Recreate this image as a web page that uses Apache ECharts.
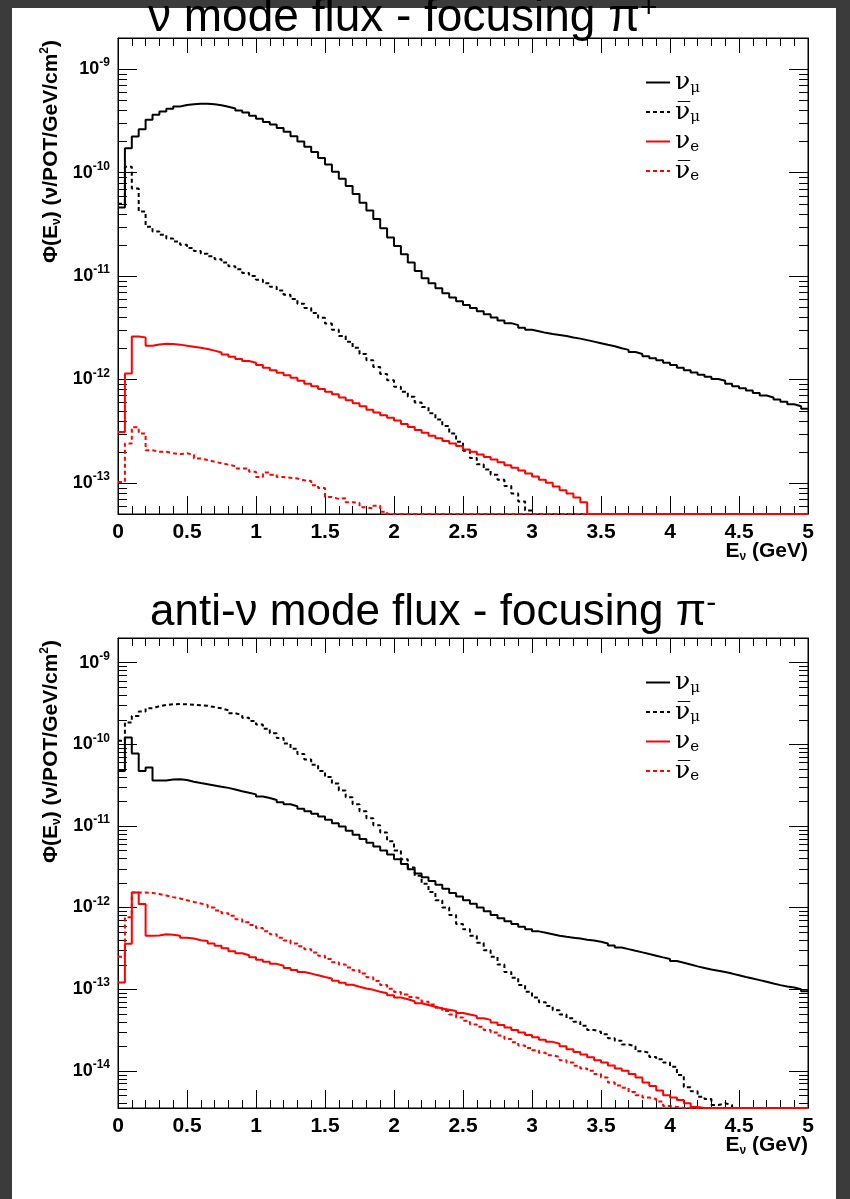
<!DOCTYPE html>
<html><head><meta charset="utf-8">
<script src="https://cdn.jsdelivr.net/npm/echarts@6/dist/echarts.min.js"></script>
<style>
html,body{margin:0;padding:0;background:#3b3b3b;}
#panel{position:absolute;left:12px;top:8px;width:824px;height:1191px;background:#fff;}
#chart{position:absolute;left:0;top:0;width:850px;height:1199px;}
</style></head>
<body><div id="panel"></div><div id="chart"></div>
<script>
// ---- DATA (flux per 0.05 GeV bin, bins start at 0 GeV; 0 = empty bin) ----
const BIN_WIDTH = 0.05;
const N_BINS = 100;
const X_TICK_LABELS = ['0','0.5','1','1.5','2','2.5','3','3.5','4','4.5','5'];

// nu mode (focusing pi+)
const nuModeNumu = [
4.6e-11,1.72e-10,2.23e-10,2.63e-10,3.24e-10,3.63e-10,3.89e-10,4.13e-10,4.36e-10,4.49e-10,
4.58e-10,4.62e-10,4.62e-10,4.57e-10,4.47e-10,4.32e-10,4.17e-10,3.98e-10,3.80e-10,3.55e-10,
3.31e-10,3.09e-10,2.92e-10,2.69e-10,2.48e-10,2.24e-10,2.0e-10,1.78e-10,1.58e-10,1.38e-10,
1.2e-10,1.02e-10,8.7e-11,7.4e-11,6.2e-11,5.1e-11,4.3e-11,3.55e-11,2.9e-11,2.35e-11,
1.95e-11,1.62e-11,1.35e-11,1.12e-11,9.5e-12,8.5e-12,7.6e-12,6.8e-12,6.2e-12,5.7e-12,
5.25e-12,4.9e-12,4.57e-12,4.27e-12,3.98e-12,3.72e-12,3.5e-12,3.35e-12,3.16e-12,3.02e-12,
2.92e-12,2.82e-12,2.75e-12,2.69e-12,2.63e-12,2.54e-12,2.48e-12,2.4e-12,2.32e-12,2.24e-12,
2.16e-12,2.09e-12,2.0e-12,1.93e-12,1.84e-12,1.76e-12,1.68e-12,1.6e-12,1.53e-12,1.45e-12,
1.38e-12,1.3e-12,1.23e-12,1.17e-12,1.11e-12,1.06e-12,1.01e-12,9.7e-13,9.1e-13,8.6e-13,
8.2e-13,7.8e-13,7.4e-13,7.0e-13,6.7e-13,6.4e-13,6.1e-13,5.75e-13,5.5e-13,5.2e-13];
const nuModeNumubar = [
5.0e-11,1.14e-10,7.0e-11,4.2e-11,3.0e-11,2.7e-11,2.5e-11,2.3e-11,2.15e-11,2.0e-11,
1.86e-11,1.74e-11,1.64e-11,1.55e-11,1.45e-11,1.35e-11,1.24e-11,1.16e-11,1.07e-11,1.0e-11,
9.2e-12,8.5e-12,7.85e-12,7.25e-12,6.6e-12,6.0e-12,5.4e-12,4.9e-12,4.4e-12,3.94e-12,
3.47e-12,3.02e-12,2.63e-12,2.32e-12,2.02e-12,1.76e-12,1.53e-12,1.32e-12,1.13e-12,9.8e-13,
8.5e-13,7.6e-13,6.8e-13,6.0e-13,5.4e-13,4.7e-13,4.1e-13,3.55e-13,3.0e-13,2.5e-13,
2.04e-13,1.74e-13,1.51e-13,1.35e-13,1.2e-13,1.07e-13,9.3e-14,7.9e-14,6.6e-14,5.4e-14,
0,0,0,0,0,0,0,0,0,0,
0,0,0,0,0,0,0,0,0,0,
0,0,0,0,0,0,0,0,0,0,
0,0,0,0,0,0,0,0,0,0];
const nuModeNue = [
3.1e-13,1.14e-12,2.6e-12,2.55e-12,2.12e-12,2.18e-12,2.21e-12,2.2e-12,2.17e-12,2.12e-12,
2.07e-12,2.02e-12,1.97e-12,1.9e-12,1.82e-12,1.74e-12,1.66e-12,1.58e-12,1.51e-12,1.45e-12,
1.38e-12,1.3e-12,1.23e-12,1.16e-12,1.1e-12,1.04e-12,9.7e-13,9.1e-13,8.6e-13,8.1e-13,
7.6e-13,7.2e-13,6.7e-13,6.3e-13,5.9e-13,5.5e-13,5.1e-13,4.8e-13,4.5e-13,4.27e-13,
4.0e-13,3.7e-13,3.47e-13,3.24e-13,3.05e-13,2.85e-13,2.7e-13,2.54e-13,2.4e-13,2.27e-13,
2.1e-13,2.0e-13,1.88e-13,1.78e-13,1.68e-13,1.58e-13,1.48e-13,1.4e-13,1.32e-13,1.23e-13,
1.15e-13,1.07e-13,1.0e-13,9.2e-14,8.5e-14,7.9e-14,7.2e-14,6.5e-14,0,0,
0,0,0,0,0,0,0,0,0,0,
0,0,0,0,0,0,0,0,0,0,
0,0,0,0,0,0,0,0,0,0];
const nuModeNuebar = [
1.02e-13,2.4e-13,3.45e-13,3.0e-13,2.07e-13,2.0e-13,2.0e-13,1.93e-13,1.9e-13,1.93e-13,
1.87e-13,1.72e-13,1.66e-13,1.6e-13,1.55e-13,1.5e-13,1.45e-13,1.38e-13,1.38e-13,1.28e-13,
1.14e-13,1.26e-13,1.2e-13,1.14e-13,1.12e-13,1.1e-13,1.06e-13,1.04e-13,9.5e-14,8.9e-14,
7.3e-14,7.0e-14,7.1e-14,6.5e-14,6.4e-14,5.8e-14,5.65e-14,6.0e-14,5.25e-14,0,
0,0,0,0,0,0,0,0,0,0,
0,0,0,0,0,0,0,0,0,0,
0,0,0,0,0,0,0,0,0,0,
0,0,0,0,0,0,0,0,0,0,
0,0,0,0,0,0,0,0,0,0,
0,0,0,0,0,0,0,0,0,0];

// anti-nu mode (focusing pi-)
const antiModeNumu = [
4.7e-11,1.21e-10,7.7e-11,4.7e-11,5.2e-11,3.6e-11,3.6e-11,3.7e-11,3.72e-11,3.65e-11,
3.47e-11,3.35e-11,3.24e-11,3.13e-11,3.02e-11,2.92e-11,2.79e-11,2.66e-11,2.54e-11,2.43e-11,
2.29e-11,2.19e-11,2.07e-11,1.95e-11,1.84e-11,1.74e-11,1.62e-11,1.51e-11,1.41e-11,1.3e-11,
1.19e-11,1.08e-11,9.8e-12,8.7e-12,7.8e-12,6.9e-12,6.2e-12,5.6e-12,5.0e-12,4.47e-12,
3.9e-12,3.4e-12,2.95e-12,2.6e-12,2.34e-12,2.11e-12,1.9e-12,1.7e-12,1.51e-12,1.36e-12,
1.23e-12,1.11e-12,1.0e-12,9.0e-13,8.1e-13,7.4e-13,6.8e-13,6.3e-13,5.8e-13,5.4e-13,
5.1e-13,4.9e-13,4.7e-13,4.5e-13,4.37e-13,4.27e-13,4.17e-13,4.03e-13,3.94e-13,3.8e-13,
3.63e-13,3.43e-13,3.24e-13,3.09e-13,2.95e-13,2.82e-13,2.69e-13,2.57e-13,2.45e-13,2.34e-13,
2.21e-13,2.11e-13,2.0e-13,1.9e-13,1.82e-13,1.74e-13,1.68e-13,1.62e-13,1.55e-13,1.48e-13,
1.41e-13,1.35e-13,1.29e-13,1.23e-13,1.17e-13,1.12e-13,1.08e-13,1.05e-13,1.0e-13,9.4e-14];
const antiModeNumubar = [
1.1e-10,1.85e-10,2.22e-10,2.51e-10,2.76e-10,2.92e-10,3.03e-10,3.09e-10,3.1e-10,3.09e-10,
3.05e-10,3.0e-10,2.95e-10,2.85e-10,2.75e-10,2.6e-10,2.4e-10,2.27e-10,2.11e-10,1.93e-10,
1.74e-10,1.55e-10,1.36e-10,1.19e-10,1.02e-10,8.8e-11,7.6e-11,6.5e-11,5.6e-11,4.7e-11,
3.98e-11,3.3e-11,2.72e-11,2.24e-11,1.84e-11,1.51e-11,1.24e-11,1.02e-11,8.3e-12,6.5e-12,
5.0e-12,3.9e-12,3.1e-12,2.45e-12,1.95e-12,1.55e-12,1.23e-12,1.0e-12,8.1e-13,6.3e-13,
5.4e-13,4.5e-13,3.7e-13,3.0e-13,2.5e-13,2.0e-13,1.62e-13,1.38e-13,1.12e-13,9.3e-14,
7.9e-14,6.9e-14,6.2e-14,5.5e-14,4.9e-14,4.4e-14,4.0e-14,3.55e-14,3.16e-14,3.0e-14,
2.8e-14,2.5e-14,2.34e-14,2.1e-14,2.0e-14,1.74e-14,1.66e-14,1.48e-14,1.38e-14,1.26e-14,
1.12e-14,8.9e-15,6.3e-15,5.6e-15,4.8e-15,4.5e-15,3.8e-15,4.0e-15,3.8e-15,0,
0,0,0,0,0,0,0,0,0,0];
const antiModeNue = [
1.21e-13,3.6e-13,1.53e-12,1.1e-12,4.5e-13,4.55e-13,4.7e-13,4.65e-13,4.5e-13,4.25e-13,
4.17e-13,3.98e-13,3.9e-13,3.63e-13,3.39e-13,3.16e-13,2.92e-13,2.75e-13,2.6e-13,2.45e-13,
2.29e-13,2.16e-13,2.04e-13,1.93e-13,1.82e-13,1.72e-13,1.62e-13,1.55e-13,1.48e-13,1.41e-13,
1.35e-13,1.27e-13,1.2e-13,1.13e-13,1.07e-13,1.02e-13,9.8e-14,9.3e-14,8.9e-14,8.4e-14,
7.9e-14,7.5e-14,7.1e-14,6.7e-14,6.4e-14,6.1e-14,5.8e-14,5.6e-14,5.4e-14,5.1e-14,
4.9e-14,4.7e-14,4.4e-14,4.2e-14,3.9e-14,3.63e-14,3.4e-14,3.16e-14,2.95e-14,2.75e-14,
2.57e-14,2.4e-14,2.26e-14,2.14e-14,2.0e-14,1.84e-14,1.7e-14,1.58e-14,1.46e-14,1.35e-14,
1.26e-14,1.16e-14,1.07e-14,1.0e-14,9.1e-15,8.3e-15,7.2e-15,6.5e-15,5.75e-15,5.0e-15,
4.7e-15,4.4e-15,4.0e-15,3.6e-15,0,0,0,0,0,0,
0,0,0,0,0,0,0,0,0,0];
const antiModeNuebar = [
2.5e-13,7.6e-13,1.53e-12,1.53e-12,1.51e-12,1.46e-12,1.4e-12,1.34e-12,1.29e-12,1.23e-12,
1.17e-12,1.12e-12,1.07e-12,1.0e-12,9.2e-13,8.5e-13,7.9e-13,7.2e-13,6.6e-13,6.1e-13,
5.6e-13,5.1e-13,4.7e-13,4.27e-13,3.94e-13,3.63e-13,3.35e-13,3.09e-13,2.82e-13,2.57e-13,
2.34e-13,2.14e-13,2.0e-13,1.84e-13,1.7e-13,1.55e-13,1.4e-13,1.26e-13,1.12e-13,1.01e-13,
9.2e-14,8.6e-14,8.0e-14,7.6e-14,7.0e-14,6.5e-14,5.9e-14,5.4e-14,4.9e-14,4.5e-14,
4.1e-14,3.7e-14,3.47e-14,3.16e-14,2.95e-14,2.7e-14,2.45e-14,2.24e-14,2.04e-14,1.9e-14,
1.78e-14,1.66e-14,1.55e-14,1.48e-14,1.35e-14,1.26e-14,1.15e-14,1.07e-14,1.0e-14,9.1e-15,
8.3e-15,7.2e-15,6.6e-15,6.2e-15,5.5e-15,5.0e-15,4.7e-15,4.5e-15,4.2e-15,3.7e-15,
3.6e-15,0,0,0,0,0,0,0,0,0,
0,0,0,0,0,0,0,0,0,0];

const TOP_Y_RANGE = [5e-14, 2e-9];
const BOT_Y_RANGE = [3.5e-15, 2e-9];
const X_RANGE = [0, 5];

// ---- BUILD ----
const EDGES = [];
for (let i = 0; i < N_BINS; i++) EDGES.push(+(i * BIN_WIDTH).toFixed(2));
function toHist(vals, floor) {
  const f = v => (v > 0 ? v : floor);
  const pts = vals.map((v, i) => [EDGES[i], f(v)]);
  pts.push([X_RANGE[1], f(vals[vals.length - 1])]);
  return pts;
}
function minorLogTicks(r) {
  const out = [];
  for (let e = -16; e <= -8; e++) for (let m = 2; m <= 9; m++) {
    const v = m * Math.pow(10, e);
    if (v > r[0] && v < r[1]) out.push([0, v]);
  }
  return out;
}
const FONT = 'Liberation Sans, Arial, Helvetica, sans-serif';
const SERIF = 'DejaVu Serif, Liberation Serif, serif';

const LEGEND_TEXT = {
  numu: '{n|ν}{s|μ}', numubar: '{n|ν\u0305}{s|μ}', nue: '{n|ν}{s|e}', nuebar: '{n|ν\u0305}{s|e}'
};
const STYLES = {
  numu: {color: '#000', type: 'solid'}, numubar: {color: '#000', type: [4, 3]},
  nue: {color: '#ff0000', type: 'solid'}, nuebar: {color: '#ff0000', type: [4, 3]}
};
const PANELS = [
  {grid: {left: 118, top: 38, width: 690, height: 476}, yr: TOP_Y_RANGE,
   data: {numu: nuModeNumu, numubar: nuModeNumubar, nue: nuModeNue, nuebar: nuModeNuebar}, legendTop: 70},
  {grid: {left: 118, top: 638, width: 690, height: 470}, yr: BOT_Y_RANGE,
   data: {numu: antiModeNumu, numubar: antiModeNumubar, nue: antiModeNue, nuebar: antiModeNuebar}, legendTop: 670}
];

function yLabel(v) {
  const e = Math.log10(v), r = Math.round(e);
  if (Math.abs(e - r) > 1e-6) return '';
  return '{b|10}{s|' + r + '}';
}
const grids = [], xAxes = [], yAxes = [], series = [], legends = [];
PANELS.forEach((p, k) => {
  grids.push(Object.assign({show: true, borderColor: '#000', borderWidth: 1, backgroundColor: 'transparent'}, p.grid));
  const xBase = {type: 'value', gridIndex: k, min: X_RANGE[0], max: X_RANGE[1], interval: 0.5,
    axisLine: {show: true, onZero: false, lineStyle: {color: '#000', width: 1}},
    splitLine: {show: false}};
  xAxes.push(Object.assign({}, xBase, {position: 'bottom',
    axisTick: {inside: true, length: 18, lineStyle: {color: '#000'}},
    minorTick: {show: true, splitNumber: 5, length: 8, lineStyle: {color: '#000'}},
    axisLabel: {margin: 8, color: '#000', fontFamily: FONT, fontWeight: 'bold', fontSize: 21,
      formatter: v => X_TICK_LABELS[Math.round(v * 2)]}}));
  xAxes.push(Object.assign({}, xBase, {position: 'top',
    axisTick: {inside: true, length: 15, lineStyle: {color: '#000'}},
    minorTick: {show: true, splitNumber: 5, length: 8, lineStyle: {color: '#000'}},
    axisLabel: {show: false}}));
  const yBase = {type: 'log', logBase: 10, gridIndex: k, min: p.yr[0], max: p.yr[1],
    axisLine: {show: true, onZero: false, lineStyle: {color: '#000', width: 1}},
    splitLine: {show: false}, minorTick: {show: false}};
  yAxes.push(Object.assign({}, yBase, {position: 'left',
    axisTick: {inside: true, length: 19, lineStyle: {color: '#000'}},
    axisLabel: {margin: 8, showMinLabel: false, showMaxLabel: false, formatter: yLabel,
      rich: {b: {fontFamily: FONT, fontWeight: 'bold', fontSize: 18, color: '#000', lineHeight: 24},
             s: {fontFamily: FONT, fontWeight: 'bold', fontSize: 12, color: '#000', lineHeight: 10, verticalAlign: 'top'}}}}));
  yAxes.push(Object.assign({}, yBase, {position: 'right',
    axisTick: {inside: true, length: 19, lineStyle: {color: '#000'}},
    axisLabel: {show: false}}));
  ['numu', 'numubar', 'nue', 'nuebar'].forEach(name => {
    series.push({name, type: 'line', xAxisIndex: 2 * k, yAxisIndex: 2 * k, step: 'end',
      symbol: 'none', showSymbol: false, clip: true, animation: false,
      data: toHist(p.data[name], p.yr[0]),
      lineStyle: {color: STYLES[name].color, width: 2, type: STYLES[name].type},
      itemStyle: {color: STYLES[name].color}});
  });
  series.push({type: 'custom', xAxisIndex: 2 * k, yAxisIndex: 2 * k, silent: true, clip: false,
    data: minorLogTicks(p.yr), encode: {x: 0, y: 1},
    renderItem: (params, api) => {
      const v = api.value(1);
      const a = api.coord([X_RANGE[0], v]), b = api.coord([X_RANGE[1], v]);
      const y = Math.round(a[1]) + 0.5;
      return {type: 'group', children: [
        {type: 'line', shape: {x1: a[0], y1: y, x2: a[0] + 9, y2: y}, style: {stroke: '#000', lineWidth: 1}},
        {type: 'line', shape: {x1: b[0], y1: y, x2: b[0] - 9, y2: y}, style: {stroke: '#000', lineWidth: 1}}
      ]};
    }});
  legends.push({orient: 'vertical', left: 645, top: p.legendTop, padding: 0, itemGap: 4,
    itemWidth: 24, itemHeight: 14, selectedMode: false,
    itemStyle: {opacity: 0},
    data: ['numu', 'numubar', 'nue', 'nuebar'],
    formatter: n => LEGEND_TEXT[n],
    textStyle: {rich: {
      n: {fontFamily: SERIF, fontSize: 25, color: '#000', lineHeight: 26},
      s: {fontFamily: SERIF, fontSize: 15, color: '#000', lineHeight: 12, verticalAlign: 'bottom'}}}});
});

function titleRich(size, supLH) {
  return {t: {fontFamily: FONT, fontWeight: 'normal', fontSize: size, color: '#000', lineHeight: 48},
          p: {fontFamily: FONT, fontWeight: 'normal', fontSize: 30, color: '#000', lineHeight: supLH, verticalAlign: 'top'}};
}
const nameRich = {a: {fontFamily: FONT, fontWeight: 'bold', fontSize: 21, color: '#000', lineHeight: 24},
  s: {fontFamily: FONT, fontWeight: 'bold', fontSize: 12, color: '#000', lineHeight: 10, verticalAlign: 'bottom'},
  p: {fontFamily: FONT, fontWeight: 'bold', fontSize: 12, color: '#000', lineHeight: 10, verticalAlign: 'top'}};
const Y_NAME = '{a|Φ(E}{s|ν}{a|) (ν/POT/GeV/cm}{p|2}{a|)}';
const X_NAME = '{a|E}{s|ν}{a| (GeV)}';

const graphic = [];
PANELS.forEach(p => {
  graphic.push({type: 'text', x: 51, y: p.grid.top + 2, rotation: Math.PI / 2,
    style: {text: Y_NAME, rich: nameRich, align: 'right', verticalAlign: 'middle'}});
  graphic.push({type: 'text', x: p.grid.left + p.grid.width, y: p.grid.top + p.grid.height + 25,
    style: {text: X_NAME, rich: nameRich, align: 'right', verticalAlign: 'top'}});
});

const chart = echarts.init(document.getElementById('chart'), null, {renderer: 'canvas'});
chart.setOption({
  animation: false,
  backgroundColor: 'transparent',
  title: [
    {text: '{t|ν mode flux - focusing π}{p|+}', left: 148, top: -6, padding: 0,
     textStyle: {fontWeight: 'normal', rich: titleRich(46, 36)}},
    {text: '{t|anti-ν mode flux - focusing π}{p|-}', left: 150, top: 589, padding: 0,
     textStyle: {fontWeight: 'normal', rich: titleRich(44, 26)}}
  ],
  grid: grids, xAxis: xAxes, yAxis: yAxes, series, legend: legends, graphic
});
</script></body></html>
